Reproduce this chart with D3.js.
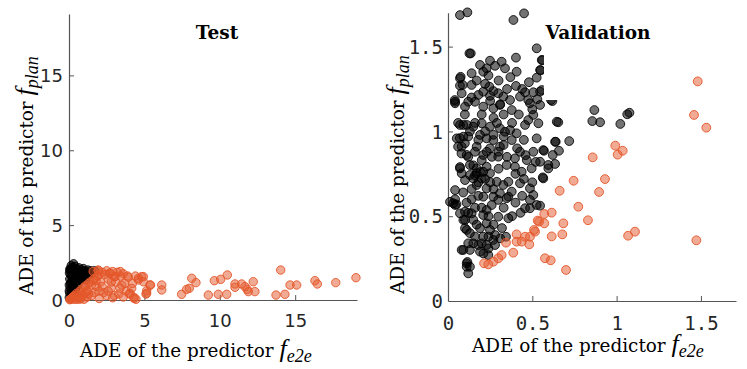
<!DOCTYPE html>
<html>
<head>
<meta charset="utf-8">
<script src="https://cdn.jsdelivr.net/npm/d3@7"></script>
<style>
  body { margin: 0; background: #fff; }
  svg { display: block; }
</style>
</head>
<body>
<svg id="chart" width="747" height="369"></svg>
<script>
// ---- data ----
var testTicks = [0, 5, 10, 15];
var valTicks = [0, 0.5, 1, 1.5];
var valTickLabels = ['0', '0.5', '1', '1.5'];
var titles = ['Test', 'Validation'];

// left panel, fplan better (black)
var testBlack = [
  [0.02,0.15],[0.05,0.45],[0.08,0.8],[0.1,1.1],[0.05,1.4],[0.12,1.7],[0.08,1.95],[0.2,2.15],
  [0.3,2.42],[0.25,1.3],[0.3,0.9],[0.35,1.6],[0.4,2.0],[0.45,1.25],[0.5,1.8],[0.55,2.05],
  [0.6,1.5],[0.7,1.9],[0.75,1.65],[0.85,2.0],[0.9,1.75],[1.0,1.95],[1.05,1.6],[1.15,1.85],
  [1.25,2.0],[1.35,1.75],[1.45,1.95],[1.55,1.8],[0.15,0.35],[0.2,0.6],[0.15,2.3],[0.4,2.25],
  [0.65,2.15],[0.95,2.1],[0.02,1.0],[0.03,1.8],[0.18,1.55],[0.5,0.95],[0.7,1.3],[0.28,0.45],
  [0.12,2.1],[1.7,1.95],[0.35,1.95],[0.6,1.0],[0.8,1.4],[1.1,1.35],[0.22,0.95],[0.42,0.7],
  [0.25,2.2],[0.05,2.05],[0.02,0.6],[0.15,1.2],[0.3,1.75],[0.55,1.65],[1.2,1.6],[0.9,1.5]
];
// left panel, fe2e better (orange)
var testOrange = [
  [0.05,0.02],[0.15,0.08],[0.25,0.2],[0.35,0.05],[0.4,0.3],[0.5,0.45],[0.6,0.15],[0.7,0.55],
  [0.8,0.7],[0.9,0.35],[1.0,0.85],[1.1,0.95],[1.2,0.6],[1.3,1.1],[1.4,1.2],[1.5,0.3],
  [1.6,1.35],[1.7,1.45],[1.8,0.9],[1.9,1.6],[2.0,1.7],[2.1,1.2],[2.2,1.85],[2.3,0.5],
  [2.4,1.7],[2.5,1.95],[2.6,1.4],[2.7,1.8],[2.8,0.8],[2.9,1.9],[3.0,1.55],[3.1,1.2],
  [3.2,1.85],[3.3,0.4],[3.4,1.6],[3.5,1.0],[3.6,1.75],[3.7,1.11],[3.8,0.6],[3.89,1.6],
  [3.93,1.52],[4.0,0.4],[4.05,0.45],[4.16,0.78],[4.31,0.11],[4.31,0.18],[4.44,0.05],[4.6,1.34],
  [4.6,1.45],[4.82,1.56],[4.93,1.22],[4.93,1.56],[5.11,0.4],[5.15,0.62],[5.15,0.45],[5.37,1.0],
  [5.41,1.0],[1.2,0.2],[2.0,0.1],[1.7,0.5],[2.5,0.3],[2.9,0.15],[3.05,1.56],[2.72,1.78],
  [1.94,1.96],[1.94,2.0],[3.38,0.78],[0.2,0.15],[0.1,0.05],[0.3,0.25],[1.0,0.05],[0.8,0.1],
  [1.5,1.0],[2.2,0.9],[2.6,0.6],[3.0,0.3],[0.5,0.05],[1.3,0.4],[1.8,1.3],[2.8,1.2],
  [3.4,1.9],[1.6,1.9],[2.0,0.6],[1.1,0.5],[0.7,0.05],[3.6,0.2],[4.2,1.1],[4.4,1.6],
  [6.15,1.0],[6.15,0.67],[7.47,0.38],[7.8,0.71],[7.98,0.78],[8.14,1.45],[8.42,1.16],[9.24,0.33],
  [9.64,1.29],[10.06,1.38],[10.5,1.67],[9.9,0.38],[10.46,0.38],[11.01,1.07],[11.01,0.85],[11.45,1.07],
  [11.67,0.89],[11.82,0.71],[11.89,0.56],[12.22,1.22],[12.33,0.56],[14.04,2.0],[13.73,0.33],[14.32,0.38],
  [14.66,1.0],[15.1,1.0],[16.31,1.29],[16.47,1.07],[17.69,1.16],[19.03,1.49]
];

// right panel (black)
var valBlack = [
  [0.071,1.686],[0.115,1.702],[0.388,1.657],[0.451,1.696],[0.526,1.49],[0.135,1.46],[0.403,1.435],[0.19,1.392],
  [0.249,1.417],[0.279,1.387],[0.318,1.411],[0.338,1.372],[0.229,1.372],[0.209,1.352],[0.14,1.343],[0.407,1.352],
  [0.075,1.322],[0.526,1.317],[0.546,1.362],[0.556,1.421],[0.087,1.274],[0.14,1.274],[0.457,1.231],[0.506,1.231],
  [0.546,1.235],[0.403,1.268],[0.245,1.264],[0.269,1.238],[0.298,1.225],[0.209,1.234],[0.18,1.215],[0.081,1.225],
  [0.042,1.175],[0.12,1.175],[0.368,1.185],[0.427,1.205],[0.476,1.185],[0.328,1.205],[0.249,1.21],[0.16,1.175],
  [0.042,1.166],[0.101,1.146],[0.209,1.146],[0.269,1.136],[0.308,1.156],[0.378,1.126],[0.486,1.166],[0.546,1.156],
  [0.506,1.097],[0.476,1.067],[0.645,1.057],[0.536,1.048],[0.457,1.038],[0.071,1.038],[0.111,1.038],[0.15,1.028],
  [0.2,1.048],[0.249,1.028],[0.308,1.018],[0.368,1.008],[0.407,0.989],[0.338,0.998],[0.052,0.959],[0.091,0.969],
  [0.19,0.979],[0.229,0.959],[0.269,0.949],[0.378,0.949],[0.526,0.959],[0.635,0.939],[0.081,0.91],[0.17,0.91],
  [0.249,0.9],[0.308,0.91],[0.427,0.88],[0.506,0.88],[0.565,0.89],[0.111,0.861],[0.209,0.861],[0.298,0.851],
  [0.397,0.841],[0.467,0.831],[0.546,0.821],[0.595,0.802],[0.13,0.802],[0.17,0.782],[0.229,0.792],[0.348,0.802],
  [0.397,0.792],[0.437,0.762],[0.496,0.782],[0.071,0.782],[0.13,0.743],[0.17,0.753],[0.209,0.762],[0.249,0.753],
  [0.15,0.723],[0.2,0.723],[0.101,0.713],[0.289,0.703],[0.358,0.703],[0.427,0.694],[0.565,0.723],[0.486,0.664],
  [0.328,0.684],[0.17,0.684],[0.229,0.664],[0.308,0.635],[0.378,0.645],[0.506,0.625],[0.209,0.615],[0.269,0.615],
  [0.358,0.615],[0.042,0.6],[0.042,0.566],[0.012,0.585],[0.101,0.527],[0.14,0.517],[0.101,0.478],[0.15,0.478],
  [0.209,0.507],[0.229,0.537],[0.259,0.566],[0.298,0.596],[0.348,0.606],[0.486,0.596],[0.457,0.547],[0.486,0.547],
  [0.526,0.566],[0.298,0.497],[0.358,0.488],[0.101,0.429],[0.19,0.429],[0.229,0.458],[0.249,0.419],[0.279,0.389],
  [0.269,0.36],[0.209,0.379],[0.15,0.34],[0.18,0.33],[0.229,0.33],[0.279,0.33],[0.091,0.301],[0.13,0.301],
  [0.19,0.291],[0.239,0.271],[0.344,0.379],[0.111,0.222],[0.13,0.202],[0.12,0.163],[0.21,0.28],[0.24,0.31],
  [0.071,0.517],[0.091,0.478],[0.12,0.52],[0.111,0.419],[0.081,0.301],[0.12,0.34],[0.042,0.654],[0.032,0.576],
  [0.05,0.57],[0.081,0.753],[0.071,0.79],[0.04,1.185],[0.071,1.313],[0.071,1.27],[0.091,1.038],[0.12,0.97],
  [0.07,0.96],[0.06,0.91],[0.111,0.202],[0.115,0.23],[0.127,1.46],[0.56,1.42],[0.55,1.36],[0.556,1.244],
  [0.53,1.19],[0.611,1.185],[0.6,1.51],[0.868,1.126],[0.856,1.061],[0.902,1.054],[1.022,1.044],[1.063,1.101],
  [1.076,1.11],[0.654,1.054],[0.719,0.943],[0.639,0.939],[0.619,1.179],[0.658,0.886],[0.569,0.886],[0.621,0.861],
  [0.635,0.808],[0.595,0.782],[0.562,0.729],[0.546,0.562],[0.16,0.88],[0.18,0.95],[0.2,0.83],[0.16,0.74],
  [0.18,0.7],[0.14,0.66],[0.26,0.85],[0.3,0.78],[0.33,0.92],[0.27,1.08],[0.33,1.1],[0.2,1.1],
  [0.14,1.2],[0.17,1.3],[0.22,1.28],[0.25,1.18],[0.3,1.3],[0.35,1.25],[0.38,1.05],[0.42,1.1],
  [0.45,0.95],[0.44,1.25],[0.1,1.1],[0.13,1.0],[0.16,1.05],[0.22,1.0],[0.27,0.98],[0.3,0.88],
  [0.35,0.85],[0.4,0.75],[0.45,0.72],[0.5,0.7],[0.52,0.82],[0.12,0.85],[0.15,0.8],[0.19,0.76],
  [0.22,0.72],[0.25,0.7],[0.27,0.66],[0.18,0.62],[0.14,0.6],[0.11,0.58],[0.16,0.55],[0.2,0.55],
  [0.24,0.5],[0.27,0.45],[0.32,0.43],[0.17,0.45],[0.13,0.4],[0.16,0.38],[0.2,0.34],[0.24,0.38],
  [0.31,0.37],[0.33,0.55],[0.4,0.58],[0.43,0.52],[0.44,0.62],[0.38,0.5],[0.09,0.64],[0.08,0.87],
  [0.1,0.93],[0.24,1.33],[0.31,1.16],[0.37,1.32],[0.48,1.29],[0.5,1.13],[0.41,0.9],[0.46,0.86],
  [0.29,1.05],[0.33,0.97],[0.23,0.88],[0.06,1.05]
];
// right panel (orange)
var valOrange = [
  [1.481,1.295],[1.459,1.097],[1.532,1.022],[0.992,0.916],[1.036,0.886],[1.006,0.863],[0.858,0.847],[0.745,0.709],
  [0.931,0.719],[0.662,0.65],[0.896,0.643],[0.773,0.556],[0.83,0.476],[0.571,0.513],[0.615,0.521],[0.571,0.458],
  [0.54,0.468],[0.684,0.458],[0.615,0.381],[0.678,0.393],[1.068,0.385],[1.109,0.409],[1.473,0.358],[0.575,0.252],
  [0.609,0.24],[0.7,0.183],[0.516,0.409],[0.486,0.379],[0.457,0.379],[0.407,0.393],[0.437,0.35],[0.482,0.334],
  [0.407,0.35],[0.344,0.344],[0.387,0.285],[0.318,0.271],[0.298,0.252],[0.269,0.232],[0.239,0.216],[0.214,0.222],
  [0.532,0.474],[0.51,0.419]
];

// ---- drawing ----
var svg = d3.select('#chart');
var axisColor = '#555';
var tickColor = '#262626';
var orange = '#e4572a';
var labelSize = 18.4;

var panels = [
  {
    x: d3.scaleLinear().domain([0, 19.1]).range([69, 357]),
    y: d3.scaleLinear().domain([0, 19.1]).range([300, 14]),
    ticks: testTicks, labels: testTicks.map(String),
    tickFont: '"DejaVu Sans"', tickSize: 18, xTickY: 21, yTickX: -6,
    black: testBlack, orange: testOrange, r: 4.2,
    title: titles[0], titleX: 217,
    xLabel: { x: 80, y: 357 }, yLabel: { x: 33, y: 295 }
  },
  {
    x: d3.scaleLinear().domain([0, 1.708]).range([448, 736]),
    y: d3.scaleLinear().domain([0, 1.70]).range([301, 12.7]),
    ticks: valTicks, labels: valTickLabels,
    tickFont: '"DejaVu Sans Mono"', tickSize: 19, xTickY: 22, yTickX: -5,
    black: valBlack, orange: valOrange, r: 4.4,
    title: titles[1], titleX: 598,
    xLabel: { x: 472, y: 352 }, yLabel: { x: 404, y: 294 }
  }
];

panels.forEach(function(p, i) {
  var g = svg.append('g').attr('class', 'panel-' + i);
  var y0 = p.y.range()[0];
  var x0 = p.x.range()[0];

  // axes, ticks pointing inwards like matlab
  var xAxis = g.append('g')
    .attr('transform', 'translate(0,' + y0 + ')')
    .call(d3.axisBottom(p.x).tickValues(p.ticks).tickSizeInner(-5).tickSizeOuter(0)
      .tickFormat(function(d, k) { return p.labels[k]; }));
  var yAxis = g.append('g')
    .attr('transform', 'translate(' + x0 + ',0)')
    .call(d3.axisLeft(p.y).tickValues(p.ticks).tickSizeInner(-5).tickSizeOuter(0)
      .tickFormat(function(d, k) { return p.labels[k]; }));

  [xAxis, yAxis].forEach(function(ax) {
    ax.select('.domain').attr('stroke', axisColor).attr('stroke-width', 1.2);
    ax.selectAll('.tick line').attr('stroke', axisColor);
    ax.selectAll('.tick text')
      .attr('fill', tickColor)
      .style('font-family', p.tickFont)
      .style('font-size', p.tickSize + 'px');
  });
  xAxis.selectAll('.tick text').attr('y', p.xTickY).attr('dy', '0.35em');
  yAxis.selectAll('.tick text').attr('x', p.yTickX).attr('dy', '0.35em');
  // no tick mark at the origin
  yAxis.selectAll('.tick line').filter(function(d) { return d === 0; }).remove();
  xAxis.selectAll('.tick line').filter(function(d) { return d === 0; }).remove();

  // points
  g.append('g').selectAll('circle.blk')
    .data(p.black)
    .enter().append('circle')
    .attr('class', 'blk')
    .attr('cx', function(d) { return p.x(d[0]); })
    .attr('cy', function(d) { return p.y(d[1]); })
    .attr('r', p.r)
    .attr('fill', '#000').attr('fill-opacity', 0.55)
    .attr('stroke', '#000').attr('stroke-opacity', 0.85).attr('stroke-width', 1);

  g.append('g').selectAll('circle.org')
    .data(p.orange)
    .enter().append('circle')
    .attr('class', 'org')
    .attr('cx', function(d) { return p.x(d[0]); })
    .attr('cy', function(d) { return p.y(d[1]); })
    .attr('r', p.r)
    .attr('fill', orange).attr('fill-opacity', 0.5)
    .attr('stroke', orange).attr('stroke-opacity', 0.9).attr('stroke-width', 1);

  // title (validation title has a white box that hides some points)
  if (i === 1) {
    g.append('rect')
      .attr('x', 544).attr('y', 6).attr('width', 112).attr('height', 94)
      .attr('fill', '#fff');
  }
  g.append('text')
    .attr('x', p.titleX).attr('y', 39)
    .attr('text-anchor', 'middle')
    .style('font-family', '"DejaVu Serif"')
    .style('font-weight', 'bold')
    .style('font-size', '18.5px')
    .text(p.title);

  // axis labels
  var xl = g.append('text')
    .attr('x', p.xLabel.x).attr('y', p.xLabel.y)
    .style('font-family', '"DejaVu Serif"').style('font-size', labelSize + 'px');
  xl.append('tspan').text('ADE of the predictor ');
  xl.append('tspan').style('font-family', '"Liberation Serif"').style('font-style', 'italic')
    .style('font-size', '26px').text('f');
  xl.append('tspan').attr('dy', 5).style('font-family', '"Liberation Serif"').style('font-style', 'italic')
    .style('font-size', '18px').text('e2e');

  var yl = g.append('text')
    .attr('transform', 'translate(' + p.yLabel.x + ',' + p.yLabel.y + ') rotate(-90)')
    .style('font-family', '"DejaVu Serif"').style('font-size', labelSize + 'px');
  yl.append('tspan').text('ADE of the predictor ');
  yl.append('tspan').style('font-family', '"Liberation Serif"').style('font-style', 'italic')
    .style('font-size', '26px').text('f');
  yl.append('tspan').attr('dy', 5).style('font-family', '"Liberation Serif"').style('font-style', 'italic')
    .style('font-size', '18px').text('plan');
});
</script>
</body>
</html>
